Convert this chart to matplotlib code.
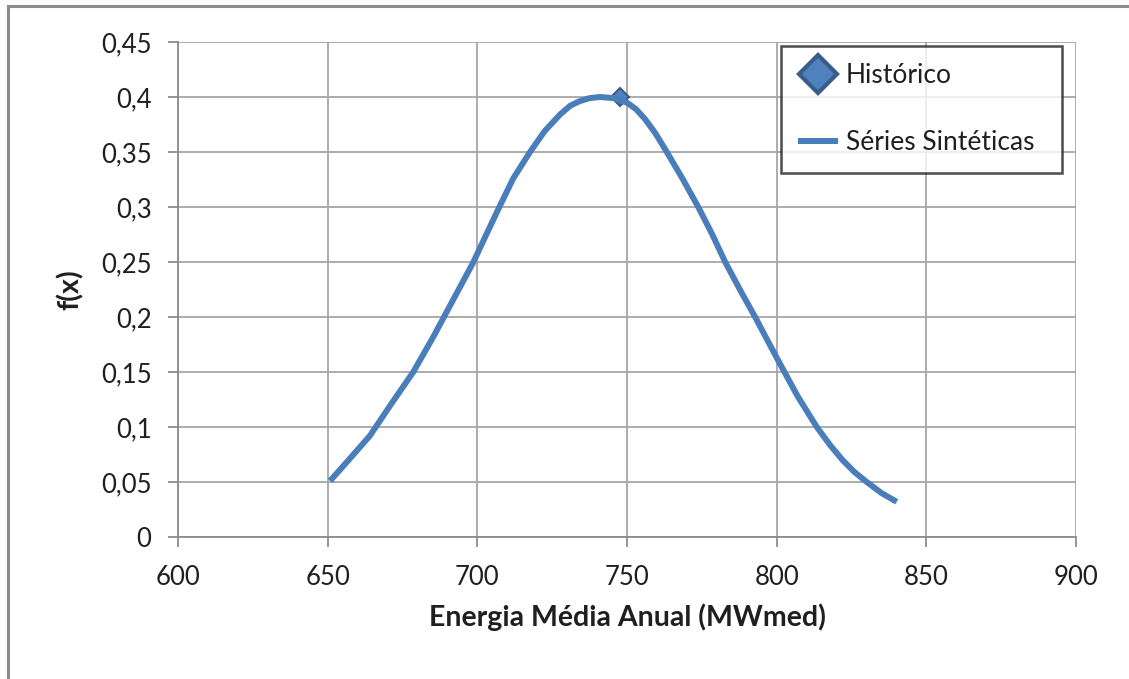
import matplotlib.pyplot as plt
from matplotlib.lines import Line2D

plt.rcParams['font.family'] = ['Lato', 'DejaVu Sans']

# curva das séries sintéticas (energia x densidade)
energia = [650.8, 657.0, 664.1, 671.0, 678.6, 685.3, 692.0, 698.7, 703.0, 707.0,
           712.0, 717.6, 722.5, 727.6, 731.0, 734.0, 737.5, 741.0, 745.5, 749.9,
           753.0, 756.0, 759.5, 763.3, 768.5, 773.8, 778.5, 782.8, 787.8, 792.8,
           796.5, 800.6, 807.0, 813.4, 818.0, 822.0, 826.0, 830.1, 835.0, 840.1]
densidade = [0.051, 0.070, 0.092, 0.120, 0.150, 0.182, 0.216, 0.250, 0.275, 0.298,
             0.326, 0.350, 0.369, 0.384, 0.392, 0.396, 0.399, 0.400, 0.399, 0.395,
             0.389, 0.380, 0.367, 0.350, 0.326, 0.300, 0.275, 0.250, 0.2245, 0.200,
             0.181, 0.160, 0.128, 0.100, 0.083, 0.070, 0.059, 0.050, 0.040, 0.032]

# ponto do histórico
hist_x = [747.7]
hist_y = [0.40]

x_ticks = [600, 650, 700, 750, 800, 850, 900]
y_ticks = [0, 0.05, 0.1, 0.15, 0.2, 0.25, 0.3, 0.35, 0.4, 0.45]
y_labels = ['0', '0,05', '0,1', '0,15', '0,2', '0,25', '0,3', '0,35', '0,4', '0,45']

azul = '#4A7EBB'
grade = '#A6A6A6'
texto = '#1F1F1F'

fig = plt.figure(figsize=(11.29, 6.79), dpi=100)
ax = fig.add_axes([178 / 1129, 1 - 537 / 679, (1076 - 178) / 1129, (537 - 42) / 679])

ax.plot(hist_x, hist_y, linestyle='none', marker='D', markersize=9,
        markerfacecolor='#4F81BD', markeredgecolor='#385D8A', markeredgewidth=1.5,
        label='Histórico', zorder=3)
ax.plot(energia, densidade, color=azul, linewidth=4.3, solid_capstyle='butt',
        solid_joinstyle='round', label='Séries Sintéticas', zorder=4)

ax.set_xlim(600, 900)
ax.set_ylim(0, 0.45)
ax.set_xticks(x_ticks)
ax.set_xticklabels([str(v) for v in x_ticks])
ax.set_yticks(y_ticks)
ax.set_yticklabels(y_labels)

ax.grid(True, color=grade, linewidth=1.3)
ax.set_axisbelow(True)
for lado in ['left', 'bottom']:
    ax.spines[lado].set_color('#8C8C8C')
    ax.spines[lado].set_linewidth(1.3)
ax.spines['top'].set_visible(False)
ax.spines['right'].set_visible(False)

ax.tick_params(axis='both', direction='out', length=7, width=1.3, color='#8C8C8C',
               labelsize=18.5, labelcolor=texto)
ax.tick_params(axis='y', pad=12)
ax.tick_params(axis='x', pad=13)

ax.set_xlabel('Energia Média Anual (MWmed)', fontsize=20.5, fontweight='bold',
              color=texto, labelpad=10)
ax.set_ylabel('f(x)', fontsize=20.5, fontweight='bold', color=texto, labelpad=12)

leg = ax.legend(loc='upper left',
                bbox_to_anchor=(781 / 1129, 1 - 178 / 679, 281 / 1129, 132 / 679),
                bbox_transform=fig.transFigure, mode='expand', fontsize=19,
                frameon=True, fancybox=False, edgecolor=texto, handlelength=1.5,
                handletextpad=0.3, labelspacing=1.6, borderpad=0.65,
                markerscale=2.1, borderaxespad=0)
leg.get_frame().set_linewidth(1.8)
leg.legend_handles[0].set_markeredgewidth(3)
for t in leg.get_texts():
    t.set_color(texto)

# moldura externa do gráfico
fig.add_artist(Line2D([7.5 / 1129, 7.5 / 1129], [0, 1 - 5.5 / 679],
                      transform=fig.transFigure, color='#8C8C8C', linewidth=2.2))
fig.add_artist(Line2D([7.5 / 1129, 1], [1 - 5.5 / 679, 1 - 5.5 / 679],
                      transform=fig.transFigure, color='#8C8C8C', linewidth=2.2))

fig.savefig('out.png', dpi=100)
